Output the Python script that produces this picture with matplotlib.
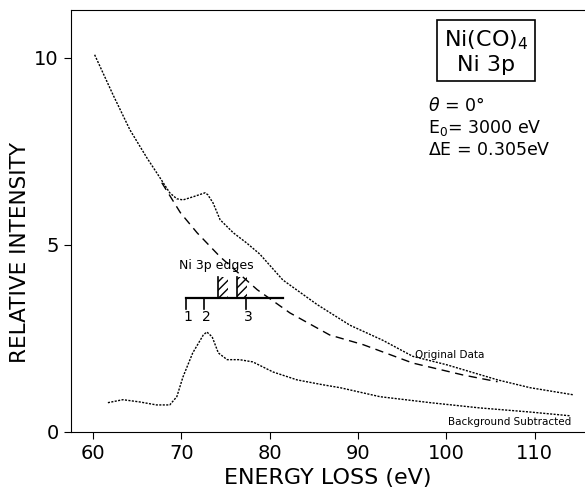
import numpy as np
import matplotlib.pyplot as plt
from matplotlib.patches import Rectangle

# values
orig_x = [60.2, 62.3, 64.2, 66.1, 67.6, 68.7, 69.5, 70.2, 71.3, 72.7, 73.0, 73.6,
          74.4, 75.9, 77.4, 78.9, 81.5, 85.4, 89.1, 92.8, 96.2, 100.1, 105.8, 109.5, 114.4]
orig_y = [10.08, 9.0, 8.07, 7.33, 6.79, 6.39, 6.23, 6.2, 6.28, 6.39, 6.34, 6.12,
          5.67, 5.32, 5.05, 4.75, 4.06, 3.40, 2.85, 2.45, 2.02, 1.79, 1.39, 1.18, 0.99]

bg_x = [67.8, 69.9, 71.8, 74.4, 78.6, 82.3, 86.8, 90.6, 96.2, 101.9, 105.8]
bg_y = [6.66, 5.86, 5.32, 4.68, 3.80, 3.18, 2.59, 2.33, 1.84, 1.52, 1.34]

sub_x = [61.7, 63.4, 65.3, 67.2, 68.7, 69.5, 70.2, 71.3, 72.5, 72.9, 73.5, 74.2,
         75.2, 76.6, 78.1, 80.4, 83.1, 86.0, 88.0, 92.5, 98.2, 103.8, 109.5, 114.0]
sub_y = [0.78, 0.86, 0.80, 0.72, 0.72, 0.94, 1.47, 2.11, 2.59, 2.67, 2.54, 2.11,
         1.93, 1.93, 1.87, 1.60, 1.39, 1.26, 1.18, 0.94, 0.78, 0.64, 0.53, 0.43]

edge_ticks = [70.5, 72.6, 77.3]
edge_labels = ['1', '2', '3']
edge_bands = [(74.2, 75.3), (76.3, 77.4)]

fig = plt.figure(figsize=(5.85, 4.93), dpi=100)
ax = fig.add_axes([0.121, 0.124, 0.879, 0.856])

ax.plot(orig_x, orig_y, color='black', lw=1.0, ls=(0, (1.5, 1)))
ax.plot(bg_x, bg_y, color='black', lw=1.0, ls=(0, (6, 4)))
ax.plot(sub_x, sub_y, color='black', lw=1.0, ls=(0, (1.5, 1)))

# Ni 3p edge marker
y0 = 3.58
ax.plot([edge_ticks[0], 81.5], [y0, y0], color='black', lw=1.6)
for xt, lab in zip(edge_ticks, edge_labels):
    ax.plot([xt, xt], [y0, y0 - 0.3], color='black', lw=1.2)
    ax.text(xt + 0.3, y0 - 0.33, lab, ha='center', va='top', fontsize=10)
for x0, x1 in edge_bands:
    ax.add_patch(Rectangle((x0, y0), x1 - x0, 0.55, fill=False, hatch='////',
                           lw=0, edgecolor='black'))
    ax.plot([x0, x0], [y0, y0 + 0.55], color='black', lw=1.2)
ax.text(74.0, 4.44, 'Ni 3p edges', ha='center', va='center', fontsize=9)

ax.text(100.4, 2.06, 'Original Data', ha='center', va='center', fontsize=7.5)
ax.text(107.2, 0.27, 'Background Subtracted', ha='center', va='center', fontsize=7.5)

ax.text(104.5, 10.16, 'Ni(CO)$_4$\nNi 3p', ha='center', va='center', fontsize=16,
        linespacing=1.15,
        bbox=dict(boxstyle='square,pad=0.3', fc='white', ec='black', lw=1.2))
ax.text(97.9, 8.95, '$\\theta$ = 0°\nE$_0$= 3000 eV\n$\\Delta$E = 0.305eV',
        ha='left', va='top', fontsize=12.5, linespacing=1.2)

ax.set_xlim(57.5, 115.7)
ax.set_ylim(0, 11.28)
ax.set_xticks([60, 70, 80, 90, 100, 110])
ax.set_yticks([0, 5, 10])
ax.tick_params(direction='out', length=5, labelsize=14)
ax.spines['right'].set_visible(False)
ax.set_xlabel('ENERGY LOSS (eV)', fontsize=16, labelpad=4)
ax.set_ylabel('RELATIVE INTENSITY', fontsize=15.5)
ax.yaxis.set_label_coords(-0.08, 0.424)

fig.savefig('out.png', dpi=100)
